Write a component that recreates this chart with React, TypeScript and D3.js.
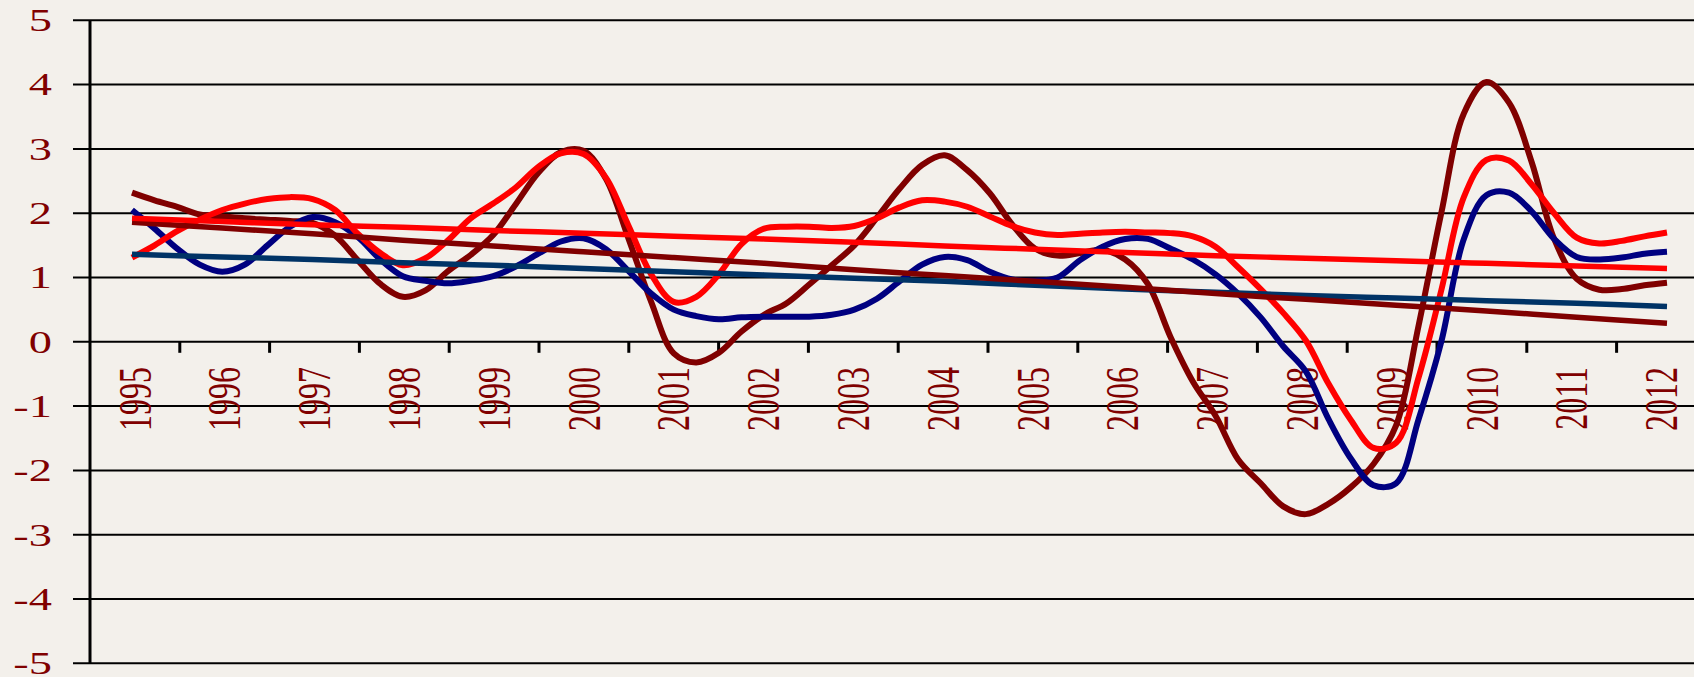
import React from "react";
import * as d3 from "d3";

const W = 1694;
const H = 677;

// category labels (years) and quarterly positions of the data
const years = ["1995", "1996", "1997", "1998", "1999", "2000", "2001", "2002", "2003",
  "2004", "2005", "2006", "2007", "2008", "2009", "2010", "2011", "2012"];
const quarters = d3.range(69).map((i) => 1995 + i / 4);
const trendYears = d3.range(18).map((i) => 1995 + i);

const yTicks = [5, 4, 3, 2, 1, 0, -1, -2, -3, -4, -5];

// quarterly series
const darkRedSeries = [
  2.32, 2.2, 2.1, 1.98, 1.95, 1.92, 1.9, 1.88, 1.85, 1.65, 1.27, 0.9,
  0.7, 0.8, 1.1, 1.35, 1.66, 2.14, 2.63, 2.95, 2.97, 2.53, 1.6, 0.62,
  -0.18, -0.32, -0.17, 0.16, 0.42, 0.6, 0.89, 1.19, 1.5, 1.93, 2.38, 2.75,
  2.9, 2.67, 2.31, 1.82, 1.45, 1.34, 1.38, 1.43, 1.28, 0.9, 0.08, -0.62,
  -1.15, -1.83, -2.2, -2.56, -2.68, -2.52, -2.26, -1.9, -1.3, 0.26, 2.0, 3.55,
  4.04, 3.72, 2.8, 1.6, 0.98, 0.81, 0.82, 0.88, 0.92,
];
const redSeries = [
  1.31, 1.5, 1.72, 1.9, 2.05, 2.15, 2.22, 2.25, 2.22, 2.05, 1.68, 1.38,
  1.19, 1.3, 1.58, 1.92, 2.15, 2.4, 2.72, 2.93, 2.92, 2.55, 1.8, 1.05,
  0.62, 0.7, 1.05, 1.52, 1.76, 1.79, 1.79, 1.77, 1.8, 1.92, 2.09, 2.2,
  2.18, 2.1, 1.95, 1.8, 1.7, 1.66, 1.68, 1.7, 1.71, 1.7, 1.69, 1.64,
  1.48, 1.16, 0.82, 0.45, 0.02, -0.65, -1.22, -1.65, -1.57, -0.55, 0.8, 2.25,
  2.83, 2.82, 2.45, 2.0, 1.62, 1.53, 1.57, 1.64, 1.7,
];
const navySeries = [
  2.05, 1.76, 1.45, 1.2, 1.09, 1.2, 1.5, 1.79, 1.94, 1.86, 1.63, 1.28,
  1.02, 0.95, 0.91, 0.95, 1.02, 1.17, 1.37, 1.56, 1.61, 1.44, 1.1, 0.75,
  0.5, 0.4, 0.35, 0.38, 0.39, 0.39, 0.39, 0.42, 0.5, 0.67, 0.94, 1.2,
  1.32, 1.27, 1.09, 0.97, 0.95, 1.0, 1.27, 1.48, 1.6, 1.6, 1.45, 1.28,
  1.05, 0.75, 0.38, -0.07, -0.46, -1.2, -1.82, -2.23, -2.2, -1.2, 0.0, 1.6,
  2.28, 2.32, 2.03, 1.6, 1.32, 1.28, 1.31, 1.37, 1.4,
];

// yearly trend lines
const redTrend = [1.92, 1.87, 1.82, 1.78, 1.73, 1.69, 1.64, 1.6, 1.55, 1.49, 1.44, 1.39,
  1.34, 1.3, 1.26, 1.22, 1.18, 1.14];
const darkRedTrend = [1.86, 1.77, 1.68, 1.58, 1.49, 1.4, 1.31, 1.22, 1.12, 1.03, 0.94, 0.85,
  0.75, 0.66, 0.57, 0.48, 0.38, 0.29];
const blueTrend = [1.36, 1.32, 1.28, 1.23, 1.19, 1.14, 1.09, 1.04, 0.99, 0.94, 0.88, 0.82,
  0.77, 0.72, 0.68, 0.64, 0.6, 0.55];

export default function App() {
  const axisX = 90;
  const bandW = 89.8;

  const xBand = d3.scaleBand<string>()
    .domain(years)
    .range([axisX, axisX + bandW * years.length])
    .padding(0);

  const x = d3.scaleLinear().domain([1995, 2012]).range([132, 1667]);
  const y = d3.scaleLinear().domain([-5, 5]).range([663.3, 20.3]);

  const quarterLine = d3.line<number>()
    .x((d, i) => x(quarters[i]))
    .y((d) => y(d))
    .curve(d3.curveCatmullRom.alpha(0.5));

  const trendLine = d3.line<number>()
    .x((d, i) => x(trendYears[i]))
    .y((d) => y(d))
    .curve(d3.curveCatmullRom.alpha(0.5));

  const font = "'Liberation Serif', 'Times New Roman', serif";
  const textColor = "#800000";

  const lines = [
    { d: quarterLine(darkRedSeries), color: "#800000", w: 6 },
    { d: quarterLine(navySeries), color: "#000080", w: 6 },
    { d: quarterLine(redSeries), color: "#FF0000", w: 6 },
    { d: trendLine(blueTrend), color: "#003366", w: 5.5 },
    { d: trendLine(darkRedTrend), color: "#800000", w: 5.5 },
    { d: trendLine(redTrend), color: "#FF0000", w: 5.5 },
  ];

  return (
    <svg width={W} height={H} style={{ position: "absolute", left: 0, top: 0 }}>
      <rect x={0} y={0} width={W} height={H} fill="#F3F0EB" />

      {/* gridlines */}
      {yTicks.map((t) => (
        <line key={"g" + t} x1={73} x2={W} y1={y(t)} y2={y(t)} stroke="#000" strokeWidth={2} />
      ))}

      {/* y axis */}
      <line x1={axisX} x2={axisX} y1={y(5)} y2={y(-5)} stroke="#000" strokeWidth={3} />

      {/* x tick marks between categories */}
      {years.slice(1).map((yr) => (
        <line key={"t" + yr} x1={xBand(yr)} x2={xBand(yr)} y1={y(0)} y2={y(0) + 11}
          stroke="#000" strokeWidth={3} />
      ))}

      {/* y labels */}
      {yTicks.map((t) => (
        <g key={"yl" + t} transform={`translate(52,${y(t)}) scale(1.45,1)`}>
          <text textAnchor="end" dominantBaseline="central" fontFamily={font}
            fontSize={32} fill={textColor}>{String(t)}</text>
        </g>
      ))}

      {/* x labels */}
      {years.map((yr) => (
        <g key={"xl" + yr}
          transform={`translate(${(xBand(yr) ?? 0) + xBand.bandwidth() / 2},367) scale(1.45,1) rotate(-90)`}>
          <text textAnchor="end" dominantBaseline="central" fontFamily={font}
            fontSize={32} fill={textColor}>{yr}</text>
        </g>
      ))}

      {lines.map((l, i) => (
        <path key={"l" + i} d={l.d ?? ""} fill="none" stroke={l.color} strokeWidth={l.w}
          strokeLinejoin="round" strokeLinecap="butt" />
      ))}
    </svg>
  );
}
